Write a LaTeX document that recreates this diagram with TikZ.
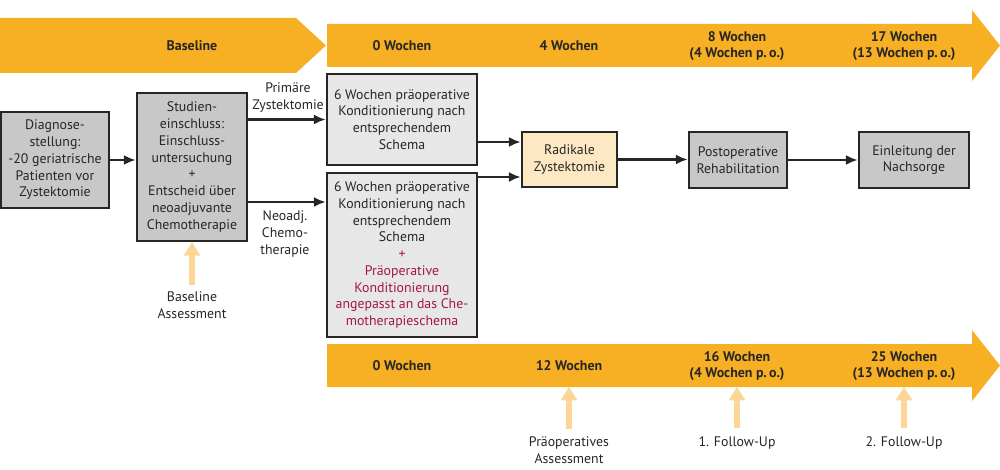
\documentclass[tikz,border=0pt]{standalone}
\usepackage{fontspec}
\setmainfont{PT Sans}
\usetikzlibrary{arrows.meta,calc}
\definecolor{bandorange}{RGB}{247,175,36}
\definecolor{boxgrey}{RGB}{200,200,200}
\definecolor{boxlight}{RGB}{231,231,231}
\definecolor{boxpeach}{RGB}{253,232,196}
\definecolor{assessorange}{RGB}{252,214,152}
\definecolor{chemored}{RGB}{163,22,72}
\definecolor{inkgrey}{RGB}{38,38,38}
\tikzset{
  phase/.style={draw=inkgrey, line width=2pt, align=center, inner sep=1pt,
    font=\fontsize{11.8}{14.3}\selectfont, text=inkgrey},
  flow/.style={line width=2.3pt, color=inkgrey, -{Latex[length=3.6mm,width=3mm]}},
  assess/.style={line width=1.8mm, color=assessorange, -{Triangle[length=4mm,width=4.8mm]}},
  bandtext/.style={font=\fontsize{11.9}{13.7}\selectfont\bfseries, align=center, text=inkgrey},
  note/.style={font=\fontsize{11.8}{14.3}\selectfont, align=center, text=inkgrey, inner sep=0pt}
}

\begin{document}
\begin{tikzpicture}[x=0.3mm, y=-0.3mm]
			%%%%% START %%%%%
			\useasboundingbox (0,0) rectangle (1000,470);
			
			% time bands
			\fill[bandorange] (0,18) -- (296,18) -- (326,45.5) -- (296,73) -- (0,73) -- cycle;
			\fill[bandorange] (327,24) -- (972,24) -- (972,10) -- (1000,45.5) -- (972,81) -- (972,67) -- (327,67) -- cycle;
			\fill[bandorange] (327,344) -- (972,344) -- (972,330) -- (1000,365.5) -- (972,401) -- (972,387) -- (327,387) -- cycle;
			\coordinate (bandlow) at (0,387);
			
			\node[bandtext] (base) at (192,46) {Baseline};
			\node[bandtext] (topw0) at (402,46) {0 Wochen};
			\node[bandtext] (topw4) at (569,46) {4 Wochen};
			\node[bandtext] (topw8) at (737,46) {8 Wochen\\(4 Wochen p.\,o.)};
			\node[bandtext] (topw17) at (904,46) {17 Wochen\\(13 Wochen p.\,o.)};
			
			\node[bandtext] (loww0) at (402,366) {0 Wochen};
			\node[bandtext] (loww12) at (569,366) {12 Wochen};
			\node[bandtext] (loww16) at (737,366) {16 Wochen\\(4 Wochen p.\,o.)};
			\node[bandtext] (loww25) at (904,366) {25 Wochen\\(13 Wochen p.\,o.)};
			
			% boxes
			\node[phase, fill=boxgrey, minimum width=32.4mm, minimum height=28.8mm] (diag) at (55,160)
				{Diagnose-\\stellung:\\-20 geriatrische\\Patienten vor\\Zystektomie};
			\node[phase, fill=boxgrey, minimum width=33mm, minimum height=44.4mm] (studien) at (192,167)
				{Studien-\\einschluss:\\Einschluss-\\untersuchung\\+\\Entscheid über\\neoadjuvante\\Chemotherapie};
			\node[phase, fill=boxlight, minimum width=45mm, minimum height=27.3mm] (prim) at (402,119.5)
				{6 Wochen präoperative\\Konditionierung nach\\entsprechendem\\Schema};
			\node[phase, fill=boxlight, minimum width=45mm, minimum height=49.2mm] (neo) at (402,255)
				{6 Wochen präoperative\\Konditionierung nach\\entsprechendem\\Schema\\
				\textcolor{chemored}{+}\\\textcolor{chemored}{Präoperative}\\\textcolor{chemored}{Konditionierung}\\
				\textcolor{chemored}{angepasst an das Che-}\\\textcolor{chemored}{motherapieschema}};
			\node[phase, fill=boxpeach, minimum width=28.5mm, minimum height=16.5mm] (rad) at (569.5,159.5)
				{Radikale\\Zystektomie};
			\node[phase, fill=boxgrey, minimum width=29.4mm, minimum height=16.8mm] (postop) at (738,160)
				{Postoperative\\Rehabilitation};
			\node[phase, fill=boxgrey, minimum width=33mm, minimum height=16.8mm] (nach) at (914,160)
				{Einleitung der\\Nachsorge};
			
			% branch labels
			\node[note] (primlab) at (288,97.5) {Primäre\\Zystektomie};
			\node[note] (neolab) at (285,234) {Neoadj.\\Chemo-\\therapie};
			
			% flow
			\coordinate (neoin) at ($(studien.east)+(0,35)$);
			\coordinate (radin1) at ($(rad.west)+(0,-17.5)$);
			\coordinate (radin2) at ($(rad.west)+(0,17.5)$);
			\draw[flow] (diag.east) -- (diag.east -| studien.west);
			\draw[flow] (studien.east |- prim.west) -- (prim.west);
			\draw[flow] (neoin) -- (neoin -| neo.west);
			\draw[flow] (prim.east |- radin1) -- (radin1);
			\draw[flow] (neo.east |- radin2) -- (radin2);
			\draw[flow] (rad.east) -- (rad.east -| postop.west);
			\draw[flow] (postop.east) -- (nach.west);
			
			% assessments
			\node[note] (baseass) at (192,305) {Baseline\\Assessment};
			\node[note] (preass) at (569,450.5) {Präoperatives\\Assessment};
			\node[note] (fu1) at (737,443) {1. Follow-Up};
			\node[note] (fu2) at (904,443) {2. Follow-Up};
			\draw[assess, shorten <=1.8mm] (baseass.north) -- (studien.south);
			\draw[assess, shorten <=2.4mm] (preass.north) -- (preass.north |- bandlow);
			\draw[assess, shorten <=2.4mm] (fu1.north) -- (fu1.north |- bandlow);
			\draw[assess, shorten <=2.4mm] (fu2.north) -- (fu2.north |- bandlow);
			
			%%%%% END %%%%%
\end{tikzpicture}
\end{document}
